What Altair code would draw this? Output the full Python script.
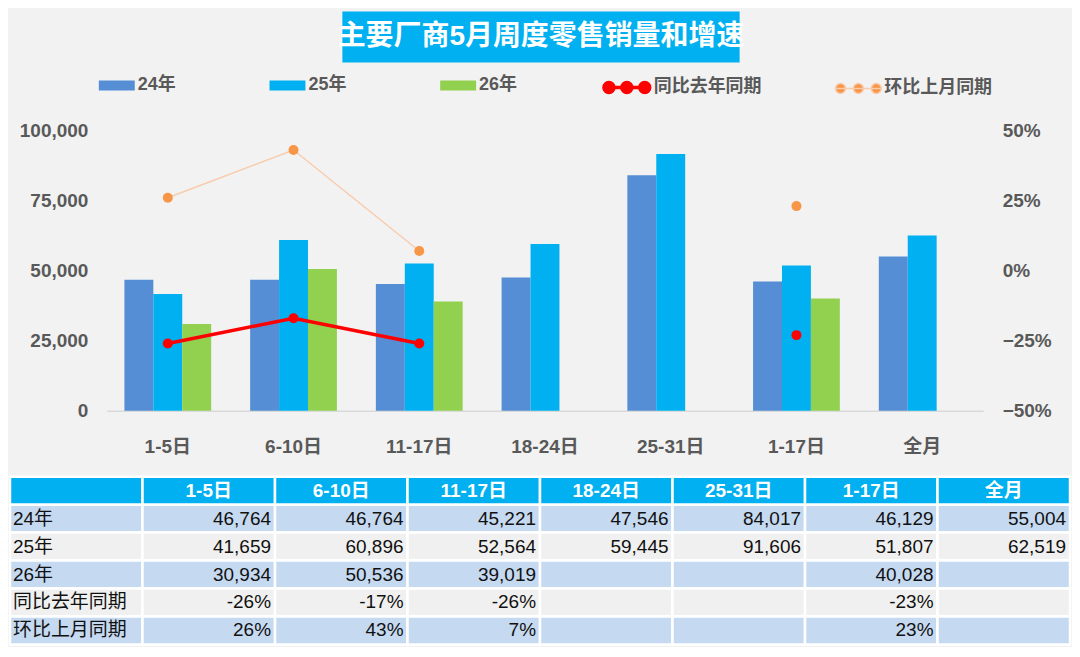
import altair as alt
import pandas as pd

# ---------------- data ----------------
categories = ["1-5日", "6-10日", "11-17日", "18-24日", "25-31日", "1-17日", "全月"]
years = ["24年", "25年", "26年"]
sales_24 = [46764, 46764, 45221, 47546, 84017, 46129, 55004]
sales_25 = [41659, 60896, 52564, 59445, 91606, 51807, 62519]
sales_26 = [30934, 50536, 39019, None, None, 40028, None]
rate_names = ["同比去年同期", "环比上月同期"]
yoy = [-0.26, -0.17, -0.26, None, None, -0.23, None]
mom = [0.26, 0.43, 0.07, None, None, 0.23, None]
line_run = [1, 1, 1, None, None, 2, None]  # contiguous runs of the rate lines
title_text = "主要厂商5月周度零售销量和增速"
left_ticks = [0, 25000, 50000, 75000, 100000]
right_ticks = [-0.5, -0.25, 0, 0.25, 0.5]
row_keys = ["表头", "24年", "25年", "26年", "同比去年同期", "环比上月同期"]
col_keys = ["项目"] + categories

FONT = "Liberation Sans, Noto Sans CJK SC, sans-serif"
GRAY = "#595959"
bar_colors = ["#558ED5", "#00B0F0", "#92D050"]
line_colors = ["#FF0000", "#F8CBAD"]
dot_colors = ["#FF0000", "#F79646"]

# ---------------- tables for the library ----------------
bar_rows = []
for series_name, vals in zip(years, [sales_24, sales_25, sales_26]):
    for c, v in zip(categories, vals):
        if v is not None:
            bar_rows.append({"cat": c, "year": series_name, "value": v})
bar_df = pd.DataFrame(bar_rows)

rate_rows = []
for series_name, vals in zip(rate_names, [yoy, mom]):
    for c, v, g in zip(categories, vals, line_run):
        if v is not None:
            rate_rows.append({"cat": c, "series": series_name, "value": v, "run": g})
rate_df = pd.DataFrame(rate_rows)

# ---------------- main chart ----------------
x_enc = alt.X(
    "cat:N", sort=categories,
    scale=alt.Scale(domain=categories, paddingInner=0.31, paddingOuter=0.14),
    axis=alt.Axis(title=None, labelFont=FONT, labelFontSize=19, labelFontWeight="bold",
                  labelColor=GRAY, labelPadding=27, ticks=False, labelAngle=0,
                  domainColor="#D9D9D9", domainWidth=1.5),
)

bars = alt.Chart(bar_df).mark_bar().encode(
    x=x_enc,
    xOffset=alt.XOffset("year:N", sort=years,
                        scale=alt.Scale(domain=years, paddingInner=0, paddingOuter=0)),
    y=alt.Y("value:Q", scale=alt.Scale(domain=[0, 100000]),
            axis=alt.Axis(values=left_ticks, format=",.0f", title=None, grid=False, domain=False,
                          ticks=False, labelPadding=19, labelFont=FONT, labelFontSize=19,
                          labelFontWeight="bold", labelColor=GRAY)),
    color=alt.Color("year:N", sort=years,
                    scale=alt.Scale(domain=years, range=bar_colors),
                    legend=alt.Legend(title=None, orient="none", legendX=-8, legendY=-63,
                                      direction="horizontal",
                                      symbolType="M-1,-0.28L1,-0.28L1,0.28L-1,0.28Z",
                                      symbolSize=1296, symbolStrokeWidth=0, symbolOpacity=1,
                                      labelFont=FONT, labelFontSize=18, labelFontWeight="bold",
                                      labelColor=GRAY, labelOffset=3, columnPadding=93,
                                      padding=0)),
)

r = 0.217
def circ(cx):
    return f"M{cx - r:.3f},0A{r},{r} 0 1,0 {cx + r:.3f},0A{r},{r} 0 1,0 {cx - r:.3f},0Z"
line_symbol = "M-1,0L1,0" + circ(-0.78) + circ(0) + circ(0.78)

rate_legend = alt.Legend(title=None, orient="none", legendX=496, legendY=-68,
                         direction="horizontal", symbolType=line_symbol,
                         symbolSize=2116, symbolStrokeWidth=2, symbolOpacity=1,
                         labelFont=FONT, labelFontSize=18, labelFontWeight="bold",
                         labelColor=GRAY, labelOffset=2, columnPadding=71, padding=0)

y_rate = alt.Y("value:Q", scale=alt.Scale(domain=[-0.5, 0.5]),
               axis=alt.Axis(orient="right", values=right_ticks, format=".0%", title=None,
                             grid=False, domain=False, ticks=False, labelPadding=19,
                             labelFont=FONT, labelFontSize=19, labelFontWeight="bold",
                             labelColor=GRAY))

lines = alt.Chart(rate_df).mark_line().encode(
    x=x_enc,
    y=y_rate,
    detail="run:N",
    stroke=alt.Stroke("series:N", sort=rate_names,
                      scale=alt.Scale(domain=rate_names, range=line_colors),
                      legend=rate_legend),
    strokeWidth=alt.StrokeWidth("series:N", sort=rate_names,
                                scale=alt.Scale(domain=rate_names, range=[3.5, 1.5]),
                                legend=None),
)

points = alt.Chart(rate_df).mark_point(filled=True, shape="circle", size=100, opacity=1).encode(
    x=x_enc,
    y=y_rate,
    fill=alt.Fill("series:N", sort=rate_names,
                  scale=alt.Scale(domain=rate_names, range=dot_colors), legend=rate_legend),
)

main = alt.layer(bars, alt.layer(lines, points)).resolve_scale(y="independent").properties(
    width=878, height=281
)

# ---------------- title ----------------
title_df = pd.DataFrame({"t": [title_text]})
title_x = alt.X("t:N", scale=alt.Scale(paddingInner=0, paddingOuter=0.593), axis=None)
title_y = alt.Y("t:N", scale=alt.Scale(paddingInner=0, paddingOuter=0), axis=None)
title_box = alt.Chart(title_df).mark_rect(color="#00B0F0").encode(x=title_x, y=title_y)
title_lbl = alt.Chart(title_df).mark_text(font=FONT, fontSize=28, fontWeight="bold",
                                          color="white", baseline="middle").encode(
    x=title_x, y=title_y, text="t:N")
title_chart = alt.layer(title_box, title_lbl).properties(width=870, height=51)

# ---------------- table ----------------
row_values = {
    "24年": [f"{v:,}" for v in sales_24],
    "25年": [f"{v:,}" for v in sales_25],
    "26年": [f"{v:,}" if v is not None else "" for v in sales_26],
    "同比去年同期": [f"{round(v * 100)}%" if v is not None else "" for v in yoy],
    "环比上月同期": [f"{round(v * 100)}%" if v is not None else "" for v in mom],
}
cells = []
for rk in row_keys:
    for j, ck in enumerate(col_keys):
        if rk == "表头":
            txt, kind = ("" if ck == "项目" else ck), "header"
        elif ck == "项目":
            txt, kind = rk, "label"
        else:
            txt, kind = row_values[rk][j - 1], "value"
        cells.append({"row": rk, "col": ck, "text": txt, "kind": kind})
cell_df = pd.DataFrame(cells)

# table spans the full width: it starts under the left axis labels of the main chart
tscale = alt.Scale(type="band", domain=col_keys, range=[-97, 965], paddingInner=0, paddingOuter=0)
tx = alt.X("col:N", sort=col_keys, scale=tscale, axis=None)
ty = alt.Y("row:N", sort=row_keys,
           scale=alt.Scale(type="band", domain=row_keys, paddingInner=0, paddingOuter=0),
           axis=None)

cell_rect = alt.Chart(cell_df).mark_rect(stroke="white", strokeWidth=2.5).encode(
    x=tx, y=ty,
    color=alt.Color("row:N", sort=row_keys,
                    scale=alt.Scale(domain=row_keys,
                                    range=["#00B0F0", "#C5D9F1", "#F0F0F0", "#C5D9F1",
                                           "#F0F0F0", "#C5D9F1"]),
                    legend=None),
)
hdr_text = alt.Chart(cell_df).transform_filter(alt.datum.kind == "header").mark_text(
    font=FONT, fontSize=19, fontWeight="bold", color="white", baseline="middle"
).encode(x=tx, y=ty, text="text:N")
lbl_text = alt.Chart(cell_df).transform_filter(alt.datum.kind == "label").mark_text(
    font=FONT, fontSize=19, color="#111111", baseline="middle", align="left", dx=3
).encode(x=alt.X("col:N", sort=col_keys, bandPosition=0, scale=tscale, axis=None),
         y=ty, text="text:N")
val_text = alt.Chart(cell_df).transform_filter(alt.datum.kind == "value").mark_text(
    font=FONT, fontSize=19, color="#111111", baseline="middle", align="right", dx=-4
).encode(x=alt.X("col:N", sort=col_keys, bandPosition=1, scale=tscale, axis=None),
         y=ty, text="text:N")

# an invisible, tiny title keeps a gap between the chart's axis labels and the table
table = alt.layer(cell_rect, hdr_text, lbl_text, val_text).properties(
    width=965, height=168,
    title=alt.TitleParams(text=" ", fontSize=2, offset=16, anchor="start", color="#F2F2F2"),
)

chart = alt.vconcat(title_chart, main, table, spacing=0).resolve_scale(
    color="independent", fill="independent", stroke="independent", strokeWidth="independent",
    x="independent", y="independent"
).resolve_legend(
    color="independent", fill="independent", stroke="independent"
).properties(
    padding={"left": 0, "top": 3, "right": 0, "bottom": 0}
).configure(background="#F2F2F2").configure_view(strokeWidth=0)

chart.save("out.html", embed_options={"renderer": "svg", "actions": False})
